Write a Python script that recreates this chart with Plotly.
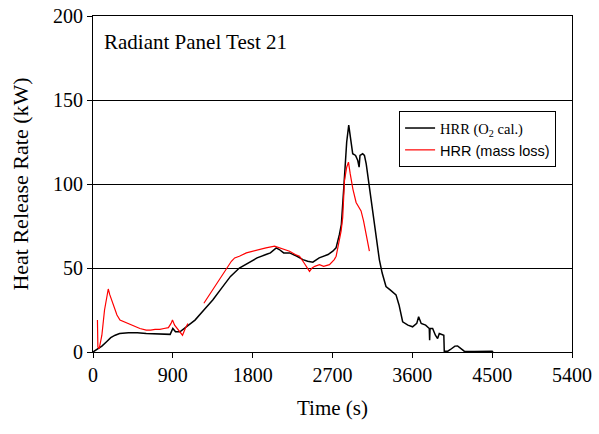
import plotly.graph_objects as go

# HRR (O2 calorimetry) - black
t_o2 = [0, 30, 60, 100, 150, 200, 250, 300, 400, 500, 600, 700, 800, 870, 900, 930, 980,
        1050, 1150, 1250, 1350, 1450, 1550, 1650, 1750, 1850, 1950, 2000, 2066, 2100, 2150,
        2216, 2300, 2366, 2420, 2478, 2550, 2600, 2650, 2703, 2740, 2778, 2800, 2830, 2860,
        2883, 2900, 2928, 2960, 2985, 3000, 3010, 3040, 3060, 3080, 3116, 3160, 3200, 3228,
        3260, 3303, 3350, 3416, 3450, 3491, 3550, 3603, 3650, 3671, 3700, 3750, 3791, 3795,
        3800, 3829, 3860, 3885, 3904, 3941, 3955, 3960, 4000, 4030, 4080, 4110, 4150, 4185,
        4300, 4500, 4510]
hrr_o2 = [0, 1, 2.5, 3.5, 6, 8.5, 10, 11, 11.5, 11.5, 11, 10.8, 10.5, 10.5, 14, 12, 12,
          15, 19, 25, 31, 38, 45, 50, 53, 56, 58, 59, 62, 61, 59,
          59, 57, 55, 54, 53.5, 56, 57, 58, 60, 62, 70, 76, 100, 125,
          135, 128, 118, 117, 114, 110, 117, 118, 117, 112, 98, 80, 65, 55,
          47, 39, 37, 34, 28, 18, 16, 15, 17, 21, 17, 16, 14, 7,
          14, 14, 10, 8, 11, 10, 10, 0.5, 0.5, 1.5, 3.5, 3.6, 2, 0.5,
          0.3, 0.5, 0]

# HRR (mass loss) - red (None = gap in data)
t_ml = [50, 55, 70, 100, 130, 160, 172, 190, 230, 270, 304, 350, 400, 450, 529, 600, 650,
        700, 754, 800, 850, 880, 896, 920, 960, 1009, 1040, 1070, 1160,
        1250, 1300, 1350, 1400, 1450, 1500, 1560, 1597, 1650, 1729, 1800, 1879, 1950, 2047,
        2100, 2150, 2216, 2280, 2328, 2380, 2420, 2441, 2470, 2500, 2553, 2600, 2666, 2720,
        2741, 2778, 2797, 2815, 2835, 2860, 2880, 2900, 2930, 2966, 2990, 3022, 3050, 3080, 3116]
hrr_ml = [19, 3, 2, 10, 25, 35, 37.5, 34, 28, 22, 19, 18, 16.5, 15.5, 14, 13, 13,
          13.5, 13.5, 14, 14.5, 17, 19, 16, 13, 10, 14, 17, None,
          29, 33, 37, 41, 45, 49, 54, 56, 57, 59, 60, 61, 62, 63,
          62, 61, 60, 58, 57, 53, 50, 48, 50, 51, 52, 51, 52, 55,
          57, 68, 72, 80, 102, 110, 113, 106, 97, 89, 87, 84, 78, 70, 60]

x_ticks = [0, 900, 1800, 2700, 3600, 4500, 5400]
y_ticks = [0, 50, 100, 150, 200]

serif = "Liberation Serif, Times New Roman, serif"

fig = go.Figure()
fig.add_trace(go.Scatter(x=t_o2, y=hrr_o2, mode="lines", name="HRR (O<sub>2</sub> cal.)",
                         line=dict(color="black", width=1.5)))
fig.add_trace(go.Scatter(x=t_ml, y=hrr_ml, mode="lines", connectgaps=False,
                         name="<span style=\"font-family:'Liberation Sans', Arial, sans-serif\">HRR (mass loss)</span>",
                         line=dict(color="#ff0000", width=1.2)))

fig.update_layout(
    width=599, height=434,
    margin=dict(l=93, r=27, t=16, b=82, autoexpand=False),
    paper_bgcolor="white", plot_bgcolor="white",
    font=dict(family=serif, size=20, color="black"),
    showlegend=True,
    legend=dict(x=0.639, y=0.717, xanchor="left", yanchor="top",
                bgcolor="white", bordercolor="black", borderwidth=1,
                font=dict(family=serif, size=14.5, color="black"),
                itemwidth=30, tracegroupgap=0),
    xaxis=dict(range=[0, 5400], tickvals=x_ticks, ticktext=[str(v) for v in x_ticks],
               showgrid=False, zeroline=False, showline=True, linecolor="black", linewidth=1,
               mirror=True, ticks="outside", ticklen=5, tickcolor="black", automargin=False,
               ticklabeloverflow="allow",
               title=dict(text="Time (s)", font=dict(size=21), standoff=15)),
    yaxis=dict(range=[0, 200], tickvals=y_ticks, ticktext=[str(v) for v in y_ticks],
               showgrid=True, gridcolor="black", gridwidth=1, zeroline=False,
               showline=True, linecolor="black", linewidth=1, mirror=True,
               ticks="outside", ticklen=5, tickcolor="black", automargin=False,
               ticklabeloverflow="allow",
               title=dict(text="Heat Release Rate (kW)", font=dict(size=22), standoff=18)),
    annotations=[dict(text="Radiant Panel Test 21", xref="paper", yref="paper",
                      x=0.019, y=0.923, xanchor="left", yanchor="middle", showarrow=False,
                      font=dict(family=serif, size=21, color="black"))],
)

# remove the browser's default 8px page margin so the figure fills the window
fig.write_html("out.html", config={"displayModeBar": False},
               post_script="document.body.style.margin='0';")
